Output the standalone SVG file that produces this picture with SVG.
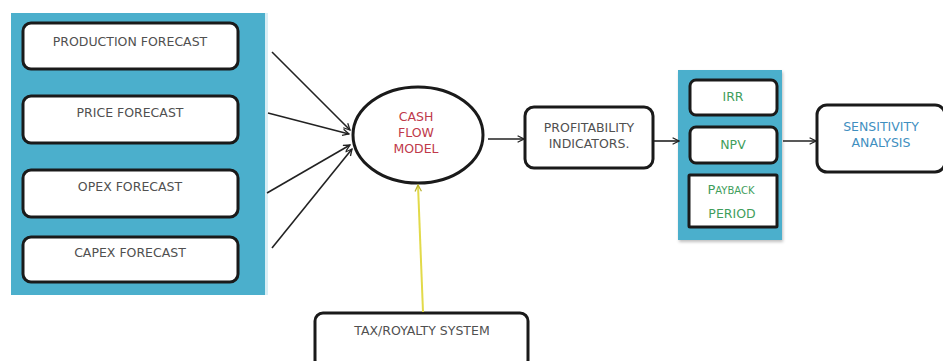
<svg xmlns="http://www.w3.org/2000/svg" width="943" height="361" viewBox="0 0 943 361">
<defs>
<style>
.box{fill:#fff;stroke:#1a1a1a;stroke-width:3}
.panel{fill:#4bafcc}
.t{font-family:"DejaVu Sans","Liberation Sans",sans-serif;font-size:12.5px;text-anchor:middle}
.gray{fill:#505050}
.red{fill:#c0394a}
.green{fill:#3f9e5c}
.blue{fill:#3f8fbf}
.edge{fill:none;stroke:#222;stroke-width:1.6}
.yel{fill:none;stroke:#e2da4a;stroke-width:2}
</style>
<marker id="ah" viewBox="0 0 10 10" refX="9" refY="5" markerWidth="8" markerHeight="8" orient="auto" markerUnits="userSpaceOnUse">
<path d="M1,1 L9,5 L1,9" fill="none" stroke="#222" stroke-width="1.6"/>
</marker>
<marker id="ahy" viewBox="0 0 10 10" refX="9" refY="5" markerWidth="8" markerHeight="8" orient="auto" markerUnits="userSpaceOnUse">
<path d="M1,1 L9,5 L1,9" fill="none" stroke="#b8b030" stroke-width="1.6"/>
</marker>
<filter id="sh" x="-10%" y="-10%" width="130%" height="130%">
<feDropShadow dx="1" dy="2" stdDeviation="1.5" flood-color="#000" flood-opacity="0.25"/>
</filter>
</defs>
<rect width="943" height="361" fill="#fff"/>

<g id="inputs-panel">
<rect class="panel" x="11" y="13" width="254" height="282"/>
<rect x="265" y="13" width="3" height="282" fill="#d8eef5"/>
</g>
<g id="production-forecast">
<rect class="box" x="23" y="23" width="215" height="46" rx="8"/>
<text class="t gray" x="130" y="46">PRODUCTION FORECAST</text>
</g>
<g id="price-forecast">
<rect class="box" x="23" y="96" width="215" height="47" rx="8"/>
<text class="t gray" x="130" y="117">PRICE FORECAST</text>
</g>
<g id="opex-forecast">
<rect class="box" x="23" y="170" width="215" height="47" rx="8"/>
<text class="t gray" x="130" y="191">OPEX FORECAST</text>
</g>
<g id="capex-forecast">
<rect class="box" x="23" y="237" width="215" height="45" rx="8"/>
<text class="t gray" x="130" y="257">CAPEX FORECAST</text>
</g>

<g id="cash-flow-model">
<ellipse cx="418" cy="135" rx="65" ry="48" fill="#fff" stroke="#1a1a1a" stroke-width="3"/>
<text class="t red" x="416" y="121">CASH</text>
<text class="t red" x="416" y="137">FLOW</text>
<text class="t red" x="416" y="153">MODEL</text>
</g>

<g id="profitability-indicators">
<rect class="box" x="525" y="107" width="128" height="61" rx="9"/>
<text class="t gray" x="589" y="132">PROFITABILITY</text>
<text class="t gray" x="589" y="148">INDICATORS.</text>
</g>

<g id="indicators-panel">
<rect class="panel" x="678" y="70" width="104" height="170" filter="url(#sh)"/>
</g>
<g id="irr">
<rect class="box" x="690" y="80" width="87" height="35" rx="6" stroke-width="2.5"/>
<text class="t green" x="733" y="101">IRR</text>
</g>
<g id="npv">
<rect class="box" x="690" y="127" width="87" height="36" rx="6" stroke-width="2.5"/>
<text class="t green" x="733" y="149">NPV</text>
</g>
<g id="payback-period">
<rect class="box" x="689" y="175" width="88" height="52" rx="1" stroke-width="2.5"/>
<text class="t green" x="731" y="194"><tspan font-size="13px">P</tspan><tspan font-size="10px">AYBACK</tspan></text>
<text class="t green" x="732" y="218" font-size="10px">PERIOD</text>
</g>

<g id="sensitivity-analysis">
<rect class="box" x="817" y="105" width="128" height="67" rx="10"/>
<text class="t blue" x="881" y="131">SENSITIVITY</text>
<text class="t blue" x="881" y="147">ANALYSIS</text>
</g>

<g id="tax-royalty-system">
<rect class="box" x="315" y="313" width="213" height="55" rx="8"/>
<text class="t gray" x="422" y="335">TAX/ROYALTY SYSTEM</text>
</g>

<g id="connectors">
<line class="edge" x1="272" y1="52" x2="350" y2="130" marker-end="url(#ah)"/>
<line class="edge" x1="268" y1="113" x2="349" y2="134" marker-end="url(#ah)"/>
<line class="edge" x1="267" y1="193" x2="350" y2="145" marker-end="url(#ah)"/>
<line class="edge" x1="272" y1="248" x2="352" y2="149" marker-end="url(#ah)"/>
<line class="edge" x1="488" y1="139" x2="524" y2="139" marker-end="url(#ah)"/>
<line class="edge" x1="654" y1="141" x2="679" y2="141" marker-end="url(#ah)"/>
<line class="edge" x1="783" y1="141" x2="816" y2="141" marker-end="url(#ah)"/>
<line class="yel" x1="423" y1="312" x2="418" y2="185" marker-end="url(#ahy)"/>
</g>
</svg>
